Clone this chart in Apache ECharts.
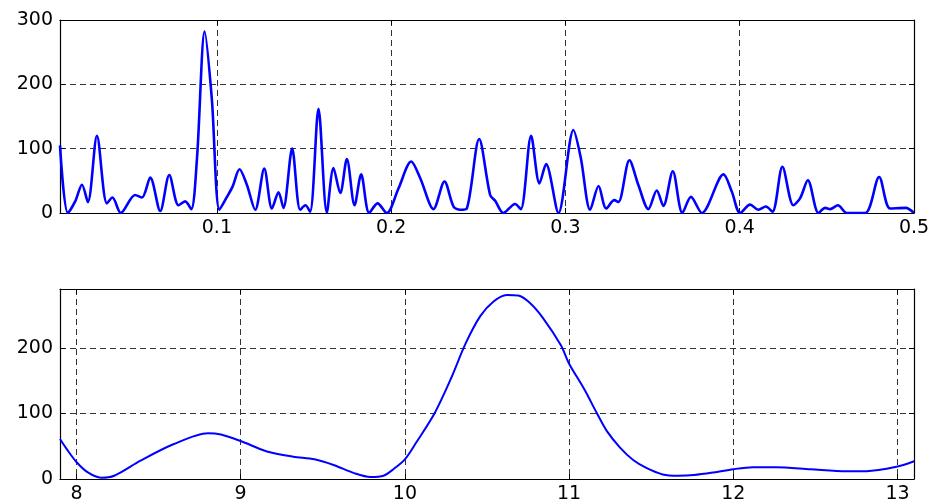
<!DOCTYPE html>
<html>
<head>
<meta charset="utf-8">
<script src="https://cdn.jsdelivr.net/npm/echarts@6/dist/echarts.min.js"></script>
<style>
    html,body{margin:0;padding:0;background:#fff;}
    #chart{width:935px;height:504px;}
</style>
</head>
<body>
<div id="chart"></div>
<script>
// 上图:频率 - 功率谱
var freqTop=[0.0100,0.0145,0.0187,0.0226,0.0260,0.0312,0.0369,0.0401,0.0449,0.0531,
    0.0570,0.0618,0.0675,0.0727,0.0780,0.0818,0.0853,0.0886,0.0930,0.0971,
    0.1015,0.1058,0.1090,0.1130,0.1172,0.1220,0.1272,0.1316,0.1354,0.1382,
    0.1432,0.1478,0.1508,0.1535,0.1583,0.1631,0.1669,0.1708,0.1746,0.1790,
    0.1828,0.1874,0.1922,0.1975,0.2042,0.2115,0.2167,0.2243,0.2306,0.2358,
    0.2396,0.2434,0.2505,0.2568,0.2597,0.2644,0.2711,0.2744,0.2803,0.2851,
    0.2889,0.2960,0.3046,0.3088,0.3142,0.3190,0.3234,0.3280,0.3304,0.3367,
    0.3419,0.3476,0.3524,0.3562,0.3616,0.3671,0.3720,0.3783,0.3907,0.3955,
    0.4002,0.4060,0.4107,0.4150,0.4188,0.4245,0.4308,0.4347,0.4391,0.4452,
    0.4490,0.4519,0.4563,0.4615,0.4720,0.4800,0.4863,0.4953,0.5000];
var powerTop=[105,0,18,44,17,120,15,24,0,28,
    24,55,3,59,12,18,6,85,282,178,
    5,25,41,68,44,5,69,7,32,8,
    100,5,12,2,162,1,70,31,84,12,
    60,0,15,0,38,80,54,6,49,10,
    5,7,115,28,19,0,14,6,120,46,
    76,0,129,86,5,42,7,20,17,82,
    43,6,35,11,65,0,25,0,60,33,
    0,13,5,10,2,72,12,23,51,0,
    8,6,12,0,0,56,7,8,0];

// 下图:周期 - 功率
var periodBottom=[7.90,7.94,8.00,8.07,8.15,8.23,8.39,8.59,8.80,8.88,
    9.00,9.16,9.32,9.45,9.57,9.69,9.79,9.87,9.93,10.00,
    10.07,10.18,10.28,10.37,10.46,10.54,10.62,10.69,10.76,10.84,
    10.95,11.00,11.09,11.17,11.23,11.31,11.39,11.47,11.57,11.66,
    11.76,11.88,12.00,12.12,12.26,12.47,12.69,12.81,13.00,13.10];
var powerBottom=[61,46,26,10,2,5,28,53,70,68,
    58,42,34,30,21,9,3,5,15,30,
    56,100,153,207,249,271,281,280,269,246,
    204,176,138,100,73,48,29,17,7,5,
    6,10,15,18,18,15,12,12,19,27];

var topRange=[0.01,0.5];
var bottomRange=[7.9,13.1];

function pairs(xs,ys){
    var out=[];
    for(var i=0;i<xs.length;i++){
        out.push([xs[i],ys[i]]);
    };
    return out;
}

var labelStyle={
    color:'#000',
    fontFamily:'DejaVu Sans',
    fontSize:19
};
var gridLine={
    show:true,
    lineStyle:{color:'#333',width:1,type:[6,4]}
};
var frameLine={show:true,onZero:false,lineStyle:{color:'#000',width:1.2}};
var innerTick={show:true,inside:true,length:5,lineStyle:{color:'#000'}};

/*
 * 主坐标轴
 */
function mainX(grid,range){
    return {
        type:'value',gridIndex:grid,position:'bottom',min:range[0],max:range[1],splitNumber:5,z:1,
        axisLine:frameLine,axisTick:innerTick,splitLine:gridLine,
        axisLabel:Object.assign({margin:6,showMinLabel:false,
            showMaxLabel:range[1]===0.5},labelStyle)
    };
}
function mainY(grid,max){
    return {
        type:'value',gridIndex:grid,position:'left',min:0,max:max,interval:100,z:1,
        axisLine:frameLine,axisTick:innerTick,splitLine:gridLine,
        axisLabel:Object.assign({margin:7,showMaxLabel:max===300},labelStyle)
    };
}
/*
 * 镜像坐标轴,只画刻度和边框
 */
function mirrorX(grid,range){
    return {
        type:'value',gridIndex:grid,position:'top',min:range[0],max:range[1],splitNumber:5,z:3,
        axisLine:frameLine,axisTick:innerTick,splitLine:{show:false},axisLabel:{show:false}
    };
}
function mirrorY(grid,max){
    return {
        type:'value',gridIndex:grid,position:'right',min:0,max:max,interval:100,z:3,
        axisLine:frameLine,axisTick:innerTick,splitLine:{show:false},axisLabel:{show:false}
    };
}

var myChart=echarts.init(document.getElementById('chart'),null,{renderer:'canvas'});
myChart.setOption({
    animation:false,
    backgroundColor:'#fff',
    grid:[
        {left:60,right:21,top:20,height:193},
        {left:60,right:21,top:289,height:193}
    ],
    xAxis:[
        mainX(0,topRange),mirrorX(0,topRange),
        mainX(1,bottomRange),mirrorX(1,bottomRange)
    ],
    yAxis:[
        mainY(0,300),mirrorY(0,300),
        mainY(1,290),mirrorY(1,290)
    ],
    series:[
        {
            type:'line',xAxisIndex:0,yAxisIndex:0,z:2,
            data:pairs(freqTop,powerTop),
            showSymbol:false,smooth:0.3,
            lineStyle:{color:'#0000ff',width:2.6}
        },
        {
            type:'line',xAxisIndex:2,yAxisIndex:2,z:2,
            data:pairs(periodBottom,powerBottom),
            showSymbol:false,smooth:0.3,
            lineStyle:{color:'#0000ff',width:2}
        }
    ]
});
</script>
</body>
</html>
